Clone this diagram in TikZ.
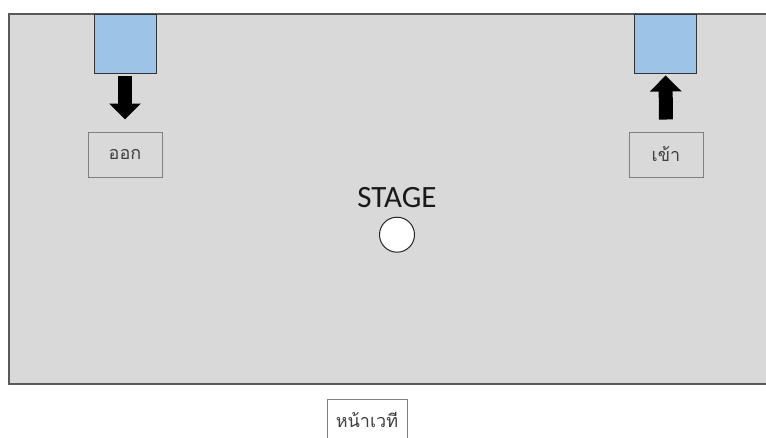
\documentclass[tikz,border=0pt]{standalone}
\usepackage{fontspec}
\setmainfont{Carlito}
\newfontfamily\thaifont[Script=Thai]{Loma}
\usetikzlibrary{arrows.meta,positioning}
\definecolor{floorgray}{HTML}{D9D9D9}
\definecolor{doorblue}{HTML}{9DC3E6}
\tikzset{
  door/.style={draw=black!80, fill=doorblue, line width=1pt, inner sep=0pt,
    minimum width=62pt, minimum height=59pt},
  signbox/.style={draw=black!50, fill=floorgray, line width=1pt, inner sep=0pt,
    minimum width=74pt, minimum height=45pt, text=black!75,
    font=\thaifont\fontsize{18}{21}\selectfont},
  walkarrow/.style={line width=14pt, -{Triangle[width=31pt,length=16pt]}}
}
\begin{document}
\begin{tikzpicture}[x=1pt,y=-1pt]
\useasboundingbox (0,0) rectangle (766,437);
\clip (0,0) rectangle (766,437);
% floor
\draw[fill=floorgray, draw=black!65, line width=1.5pt] (9,14) rectangle (780,384);
% doors
\node[door] (exitdoor) at (125,43.5) {};
\node[door] (entrydoor) at (665.5,43.5) {};
\node[signbox] (exitsign) at (125,154.5) {ออก};
\node[signbox] (entrysign) at (666,154.5) {เข้า};
% arrows
\draw[walkarrow, shorten <=2pt, shorten >=12pt] (exitdoor) -- (exitsign);
\draw[walkarrow, shorten <=12pt, shorten >=2pt] (entrysign) -- (entrydoor);
% stage
\node[font=\fontsize{31}{36}\selectfont, text=black!90] (stagelabel) at (397,198) {STAGE};
\node[circle, draw=black!85, fill=white, line width=1pt, minimum size=35pt, inner sep=0pt,
  below=5pt of stagelabel] (stagespot) {};
% front of stage
\node[signbox, fill=white, minimum width=80pt, minimum height=50pt, anchor=north]
  (frontsign) at (367,399) {\raisebox{10pt}{หน้าเวที}};
\end{tikzpicture}
\end{document}
